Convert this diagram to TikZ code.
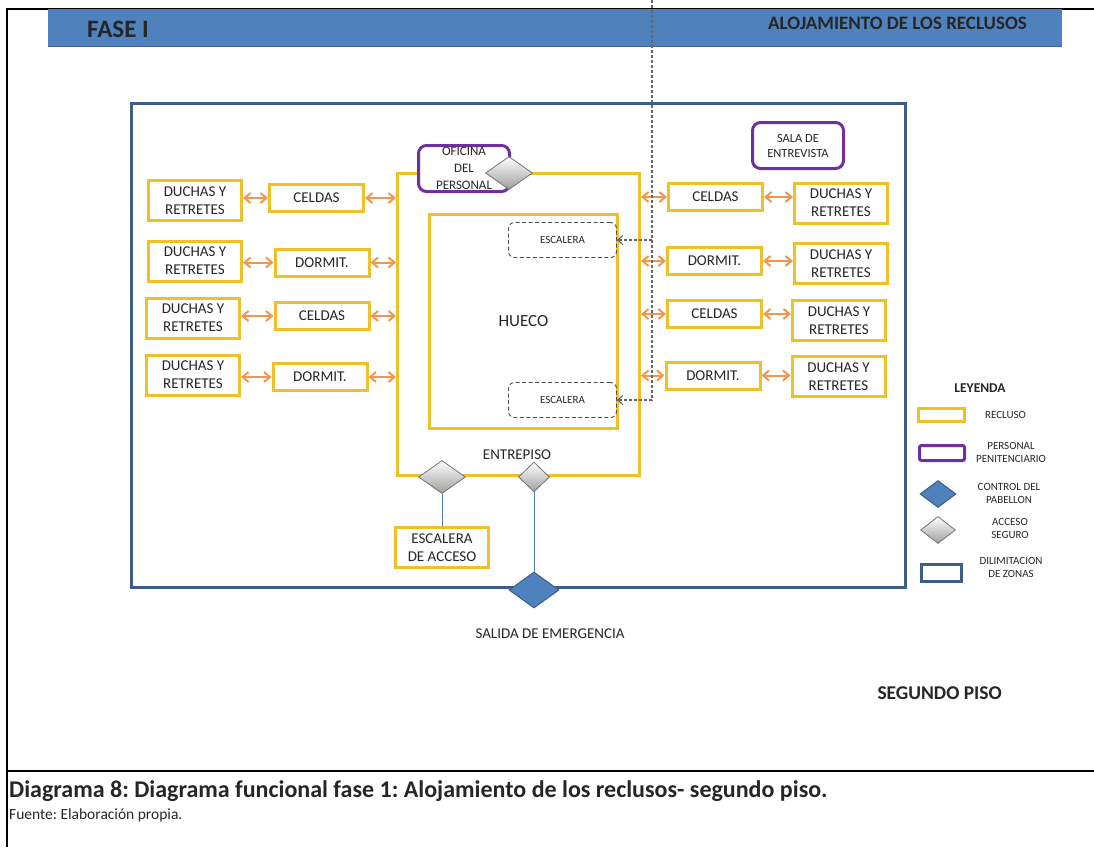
\documentclass[tikz,border=0pt]{standalone}
\usepackage{fontspec}
\setmainfont{Carlito}
\usepackage{tikz}
\usetikzlibrary{arrows.meta,positioning,shapes.geometric}
\definecolor{recluso}{RGB}{240,192,40}
\definecolor{flecha}{RGB}{240,150,80}
\definecolor{personal}{RGB}{112,48,160}
\definecolor{zona}{RGB}{62,94,135}
\definecolor{control}{RGB}{79,129,189}
\newcommand{\fs}[2]{\fontsize{#1}{#2}\selectfont}
\frenchspacing

\begin{document}
\begin{tikzpicture}[
  x=1pt, y=-1pt,
  font=\fs{15}{18},
  rec/.style={draw=recluso, line width=3pt, fill=white, align=center, inner sep=1pt, text=black!85},
  duchas/.style={rec, minimum width=93pt, minimum height=40pt},
  cuarto/.style={rec, minimum width=94pt, minimum height=27pt},
  pers/.style={draw=personal, line width=3pt, rounded corners=8pt, fill=white, align=center, inner sep=1pt, minimum width=91pt, minimum height=46pt, text=black!85},
  esc/.style={draw=black!70, dash pattern=on 4pt off 2.5pt, line width=0.9pt, rounded corners=6pt, minimum width=108pt, minimum height=35pt, font=\fs{11}{13}, text=black!85},
  acc/.style={diamond, draw=black!55, line width=0.8pt, top color=white, bottom color=black!38, inner sep=0pt},
  ctl/.style={diamond, draw=zona, line width=1pt, fill=control, inner sep=0pt},
  arr/.style={{Straight Barb[length=6pt,width=10pt]}-{Straight Barb[length=6pt,width=10pt]}, line width=2pt, flecha},
  arrd/.style={-{Straight Barb[length=5pt,width=9pt]}, densely dashed, line width=1.1pt, black!60},
  lin/.style={control, line width=1pt},
  lab/.style={inner sep=0pt, text=black!85, align=center},
  ley/.style={lab, font=\fs{11}{13}}
]
\useasboundingbox (0,0) rectangle (1094,847);
% frame and header
\draw[line width=2pt] (1094,9) -- (7,9) -- (7,847);
\draw[line width=2pt] (7,771) -- (1094,771);
\node[fill=control, minimum width=1014pt, minimum height=37pt, inner sep=0pt, anchor=north west] (barra) at (48,9) {};
\draw[control!75!black, line width=1.5pt] (barra.south west) -- (barra.south east);
\node[lab, anchor=west, font=\bfseries\fs{25}{30}] (fase) at (87,29) {FASE I};
\node[lab, anchor=east, font=\bfseries\fs{19}{22}] (titulo) at (1027,23) {ALOJAMIENTO DE LOS RECLUSOS};

% zona
\node[draw=zona, line width=3pt, minimum width=774pt, minimum height=484pt, inner sep=0pt] (zona) at (518.5,345.5) {};

% entrepiso y hueco
\node[draw=recluso, line width=3pt, minimum width=242pt, minimum height=302pt, inner sep=0pt] (piso) at (518.5,324.5) {};
\node[draw=recluso, line width=3.5pt, minimum width=188pt, minimum height=214pt, inner sep=0pt, font=\fs{17}{20}, text=black!85] (hueco) at (523.5,321.5) {HUECO};
\node[esc] (esc1) at (562.5,240) {ESCALERA};
\node[esc] (esc2) at (562.5,400) {ESCALERA};
\node[lab] (entre) at (517,455) {ENTREPISO};

% personal
\node[pers, font=\fs{13}{17}] (ofic) at (464,168.5) {OFICINA\\DEL\\PERSONAL};
\node[acc, minimum width=47pt, minimum height=33pt] (accOf) at (509,173) {};
\node[pers, font=\fs{12.5}{15}] (sala) at (798,145.5) {SALA DE\\ENTREVISTA};

% lado izquierdo
\node[duchas] (dL1) at (195,200.5) {DUCHAS Y\\RETRETES};
\node[cuarto] (cL1) at (316.5,198) {CELDAS};
\node[duchas] (dL2) at (195,261) {DUCHAS Y\\RETRETES};
\node[cuarto] (cL2) at (322,262.5) {DORMIT.};
\node[duchas] (dL3) at (193,318) {DUCHAS Y\\RETRETES};
\node[cuarto] (cL3) at (322,316) {CELDAS};
\node[duchas] (dL4) at (193,375) {DUCHAS Y\\RETRETES};
\node[cuarto] (cL4) at (320,377) {DORMIT.};

% lado derecho
\node[cuarto] (cR1) at (715.5,197) {CELDAS};
\node[duchas] (dR1) at (841,203) {DUCHAS Y\\RETRETES};
\node[cuarto] (cR2) at (714.5,261) {DORMIT.};
\node[duchas] (dR2) at (841,263.5) {DUCHAS Y\\RETRETES};
\node[cuarto] (cR3) at (714.5,314) {CELDAS};
\node[duchas] (dR3) at (839,320.5) {DUCHAS Y\\RETRETES};
\node[cuarto] (cR4) at (713,375.5) {DORMIT.};
\node[duchas] (dR4) at (838.5,376.5) {DUCHAS Y\\RETRETES};

% arrows
\draw[arr] (dL1.east |- cL1.west) -- (cL1.west);
\draw[arr] (cL1.east) -- (cL1.east -| piso.west);
\draw[arr] (dL2.east |- cL2.west) -- (cL2.west);
\draw[arr] (cL2.east) -- (cL2.east -| piso.west);
\draw[arr] (dL3.east |- cL3.west) -- (cL3.west);
\draw[arr] (cL3.east) -- (cL3.east -| piso.west);
\draw[arr] (dL4.east |- cL4.west) -- (cL4.west);
\draw[arr] (cL4.east) -- (cL4.east -| piso.west);
\draw[arr] (piso.east |- cR1.west) -- (cR1.west);
\draw[arr] (cR1.east) -- (cR1.east -| dR1.west);
\draw[arr] (piso.east |- cR2.west) -- (cR2.west);
\draw[arr] (cR2.east) -- (cR2.east -| dR2.west);
\draw[arr] (piso.east |- cR3.west) -- (cR3.west);
\draw[arr] (cR3.east) -- (cR3.east -| dR3.west);
\draw[arr] (piso.east |- cR4.west) -- (cR4.west);
\draw[arr] (cR4.east) -- (cR4.east -| dR4.west);

% stairs line
\coordinate (arriba) at (652,0);
\draw[arrd] (arriba) |- (esc2.east);
\draw[arrd] (arriba |- esc1.east) -- (esc1.east);

% accesos y salida
\node[acc, minimum width=47pt, minimum height=33pt] (acc1) at (442,477) {};
\node[acc, minimum width=31pt, minimum height=30pt] (acc2) at (534,477) {};
\node[duchas] (escAcc) at (442,547.5) {ESCALERA\\DE ACCESO};
\node[ctl, minimum width=50pt, minimum height=36pt] (salida) at (534,590) {};
\draw[lin] (acc1.south) -- (escAcc.north);
\draw[lin] (acc2.south) -- (salida.north);
\node[lab] (salidaTxt) at (550,634) {SALIDA DE EMERGENCIA};

% leyenda
\node[lab, font=\bfseries\fs{13.5}{16}] (leyenda) at (980,388) {LEYENDA};
\node[draw=recluso, line width=3pt, minimum width=46pt, minimum height=13pt, inner sep=0pt] (lRec) at (941.5,415) {};
\node[ley] (tRec) at (1005.5,415) {RECLUSO};
\node[draw=personal, line width=3pt, rounded corners=2pt, minimum width=45pt, minimum height=15pt, inner sep=0pt] (lPer) at (942,453) {};
\node[ley] (tPer) at (1011,452) {PERSONAL\\PENITENCIARIO};
\node[ctl, minimum width=36pt, minimum height=27pt] (lCtl) at (938,494) {};
\node[ley] (tCtl) at (1009,493.5) {CONTROL DEL\\PABELLON};
\node[acc, minimum width=35pt, minimum height=27pt] (lAcc) at (938,530) {};
\node[ley] (tAcc) at (1010,528) {ACCESO\\SEGURO};
\node[draw=zona, line width=3pt, minimum width=40pt, minimum height=17pt, inner sep=0pt] (lZon) at (941.5,573) {};
\node[ley] (tZon) at (1011,567.5) {DILIMITACION\\DE ZONAS};

% pie
\node[lab, anchor=east, font=\bfseries\fs{19.5}{23}] (piso2) at (1002,693) {SEGUNDO PISO};
\node[lab, anchor=west, font=\bfseries\fs{24}{28}] (caption) at (9,791) {Diagrama 8: Diagrama funcional fase 1: Alojamiento de los reclusos- segundo piso.};
\node[lab, anchor=west, font=\fs{15.5}{19}] (fuente) at (9,815) {Fuente: Elaboración propia.};
\end{tikzpicture}
\end{document}
